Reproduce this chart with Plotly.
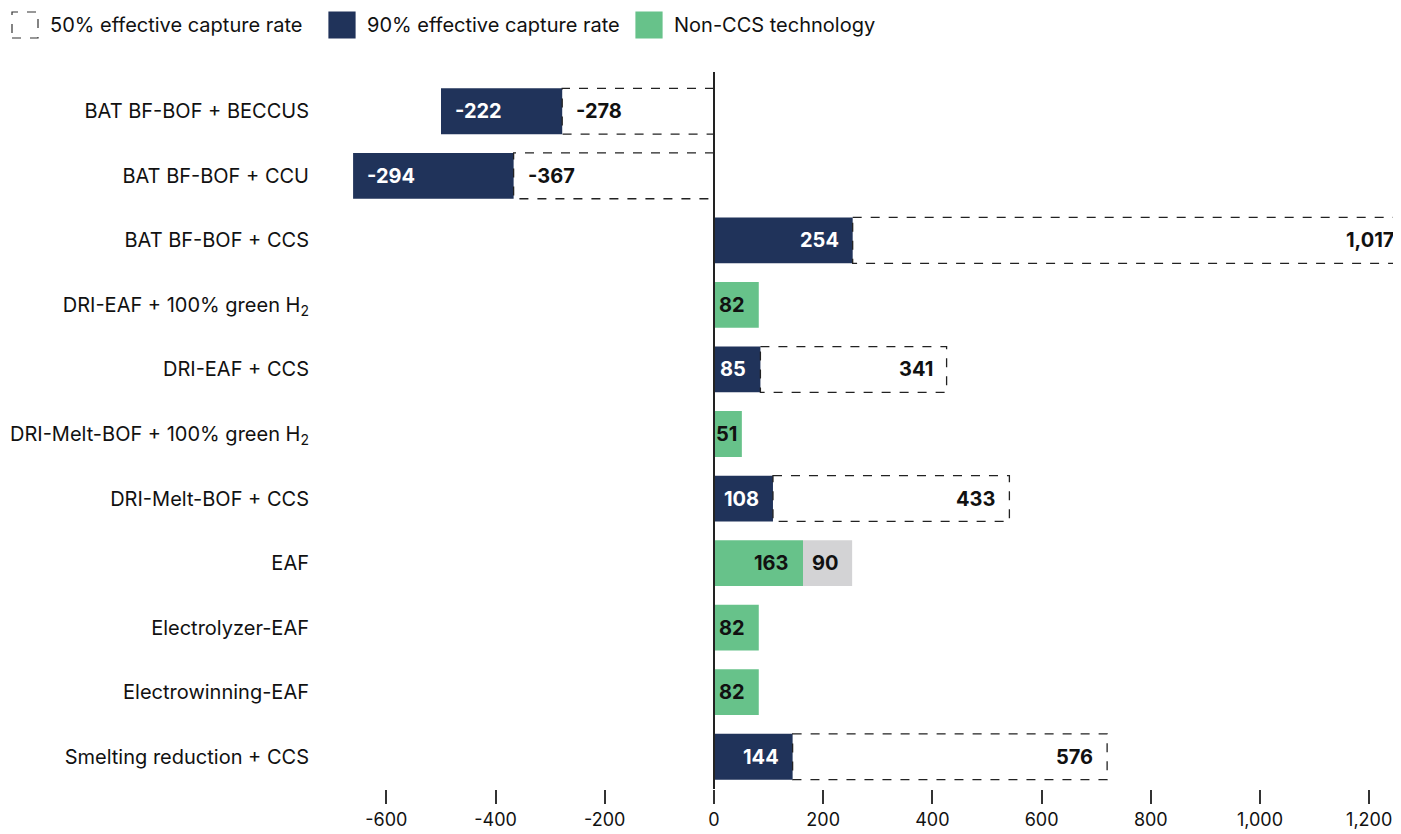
import plotly.graph_objects as go

categories = [
    "BAT BF-BOF + BECCUS",
    "BAT BF-BOF + CCU",
    "BAT BF-BOF + CCS",
    "DRI-EAF + 100% green H<sub>2</sub>",
    "DRI-EAF + CCS",
    "DRI-Melt-BOF + 100% green H<sub>2</sub>",
    "DRI-Melt-BOF + CCS",
    "EAF",
    "Electrolyzer-EAF",
    "Electrowinning-EAF",
    "Smelting reduction + CCS",
]
capture_90 = [-222, -294, 254, None, 85, None, 108, None, None, None, 144]
capture_50 = [-278, -367, 1017, None, 341, None, 433, None, None, None, 576]
non_ccs = [None, None, None, 82, None, 51, None, 163, 82, 82, None]
eaf_extra = [None, None, None, None, None, None, None, 90, None, None, None]

x_ticks = [-600, -400, -200, 0, 200, 400, 600, 800, 1000, 1200]

NAVY = "#20335a"
GREEN = "#67c28a"
GREY = "#d3d3d5"
INK = "#111111"
FONT = "Inter, Roboto, sans-serif"

# page adds an 8px body margin; the figure runs on past the right edge a little
W, H = 1401, 826
ML, MR, MT, MB = 313, 0, 71, 45
PW, PH = W - ML - MR, H - MT - MB
BAR_W = 0.71
X_ZERO_PX = 706
X_SCALE = 0.546  # px per unit
X_RANGE = [(ML - X_ZERO_PX) / X_SCALE, (W - MR - X_ZERO_PX) / X_SCALE]


def px_x(p):
    return (p - ML) / PW


def px_y(p):
    return 1 - (p - MT) / PH


series = {
    "c90": capture_90,
    "non": non_ccs,
    "extra": eaf_extra,
    "c50": capture_50,
}
# positive side: 90% sits next to zero; negative side: 50% sits next to zero
order_pos = ["c90", "non", "extra", "c50"]
order_neg = ["c50", "c90"]
n = len(categories)
bases = {k: [None] * n for k in series}
for i in range(n):
    pos, neg = 0, 0
    for k in order_pos:
        v = series[k][i]
        if v is not None and v > 0:
            bases[k][i] = pos
            pos += v
    for k in order_neg:
        v = series[k][i]
        if v is not None and v < 0:
            bases[k][i] = neg
            neg += v

style = {
    "c90": dict(color=NAVY, label="white"),
    "non": dict(color=GREEN, label=INK),
    "extra": dict(color=GREY, label=INK),
    "c50": dict(color="white", label=INK),
}

fig = go.Figure()
for k in ["c50", "c90", "non", "extra"]:
    fig.add_trace(
        go.Bar(
            y=categories,
            x=series[k],
            base=[b if b is not None else 0 for b in bases[k]],
            orientation="h",
            width=BAR_W,
            marker=dict(color=style[k]["color"], line=dict(width=0)),
            showlegend=False,
            hoverinfo="skip",
        )
    )

shapes = []
annotations = []

# dashed outlines for the 50% capture bars
for i, v in enumerate(capture_50):
    if v is None:
        continue
    b = bases["c50"][i]
    shapes.append(
        dict(
            type="rect", xref="x", yref="y",
            x0=b, x1=b + v, y0=i - BAR_W / 2, y1=i + BAR_W / 2,
            line=dict(color="#222222", width=1.3, dash="dash"),
            layer="above",
        )
    )

# value labels at the outer end of each segment
for k in ["c50", "c90", "non", "extra"]:
    for i, v in enumerate(series[k]):
        if v is None:
            continue
        end = bases[k][i] + v
        pad = 3 if abs(v) < 60 else 12
        if end > X_RANGE[1]:
            # bar runs off the right edge: keep its label inside the plot
            end, pad = X_RANGE[1], 6
        annotations.append(
            dict(
                x=end, y=categories[i], xref="x", yref="y",
                text=f"<b>{v:,}</b>",
                showarrow=False,
                xanchor="right" if v > 0 else "left",
                xshift=-pad if v > 0 else pad,
                font=dict(family=FONT, size=20, color=style[k]["label"]),
            )
        )

# zero line
shapes.append(
    dict(
        type="line", xref="x", yref="paper",
        x0=0, x1=0, y0=0, y1=px_y(64),
        line=dict(color="#222222", width=2),
    )
)

# custom legend
legend_items = [
    (4, "50% effective capture rate", "white", True),
    (321, "90% effective capture rate", NAVY, False),
    (628, "Non-CCS technology", GREEN, False),
]
for left, label, color, dashed in legend_items:
    shapes.append(
        dict(
            type="rect", xref="paper", yref="paper",
            x0=px_x(left), x1=px_x(left + 26), y0=px_y(30), y1=px_y(4),
            fillcolor=color,
            line=dict(color="#333333" if dashed else color, width=1.2,
                      dash="dash" if dashed else "solid"),
        )
    )
    annotations.append(
        dict(
            x=px_x(left + 36), y=px_y(17), xref="paper", yref="paper",
            text=label, showarrow=False, xanchor="left", yanchor="middle",
            font=dict(family=FONT, size=20, color=INK),
        )
    )

fig.update_layout(
    width=W,
    height=H,
    margin=dict(l=ML, r=MR, t=MT, b=MB),
    barmode="overlay",
    plot_bgcolor="white",
    paper_bgcolor="white",
    font=dict(family=FONT, size=20, color=INK),
    shapes=shapes,
    annotations=annotations,
)
fig.update_xaxes(
    range=X_RANGE,
    tickvals=x_ticks,
    ticktext=[f"{t:,}" for t in x_ticks],
    showgrid=False,
    zeroline=False,
    showline=False,
    ticks="outside",
    ticklen=14,
    tickwidth=1.5,
    tickcolor="#333333",
    tickfont=dict(family=FONT, size=18, color=INK),
)
fig.update_yaxes(
    autorange="reversed",
    showgrid=False,
    zeroline=False,
    showline=False,
    ticks="",
    ticklabelstandoff=11,
    tickfont=dict(family=FONT, size=20, color=INK),
)

fig.write_html("out.html")
